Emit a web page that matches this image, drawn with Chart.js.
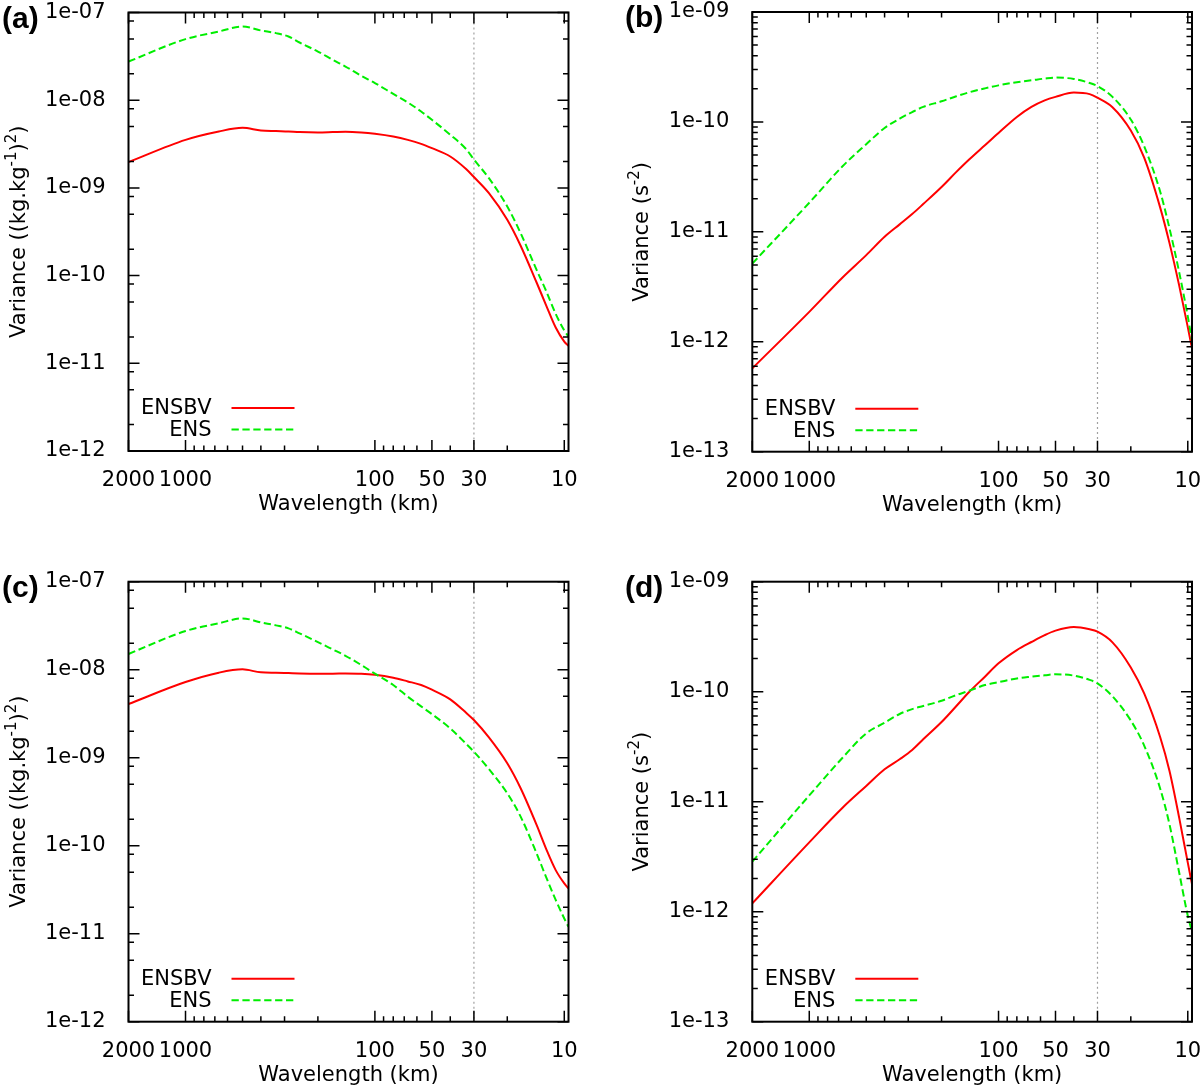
<!DOCTYPE html>
<html>
<head>
<meta charset="utf-8">
<title>Variance spectra ENSBV / ENS</title>
<script src="https://cdn.jsdelivr.net/npm/chart.js@4.4.1/dist/chart.umd.min.js"></script>
<style>
  body { margin: 0; background: #fff; }
  #wrap { position: relative; width: 1200px; height: 1088px; }
  .panel { position: absolute; width: 600px; height: 544px; }
</style>
</head>
<body>
<div id="wrap">
  <div class="panel" style="left:0;top:0"><canvas id="chartA" width="600" height="544"></canvas></div>
  <div class="panel" style="left:600px;top:0"><canvas id="chartB" width="600" height="544"></canvas></div>
  <div class="panel" style="left:0;top:544px"><canvas id="chartC" width="600" height="544"></canvas></div>
  <div class="panel" style="left:600px;top:544px"><canvas id="chartD" width="600" height="544"></canvas></div>
</div>
<script>
const wavelength = [2000, 1000, 667, 500, 400, 333, 286, 250, 200, 167, 143, 118, 100, 80, 67, 57, 50, 40, 33, 30, 25, 20, 17, 14, 12.5, 11.1, 10, 9.5];

// (a) variance in (kg.kg-1)^2
const ensbvA = [1.97e-9, 3.53e-9, 4.40e-9, 4.84e-9, 4.52e-9, 4.45e-9, 4.40e-9, 4.33e-9, 4.29e-9, 4.33e-9, 4.37e-9, 4.29e-9, 4.14e-9, 3.85e-9, 3.53e-9, 3.18e-9, 2.84e-9, 2.28e-9, 1.64e-9, 1.33e-9, 8.71e-10, 4.33e-10, 2.19e-10, 8.34e-11, 4.65e-11, 2.56e-11, 1.77e-11, 1.58e-11];
const ensA = [2.76e-8, 4.97e-8, 6.07e-8, 6.92e-8, 6.24e-8, 5.82e-8, 5.32e-8, 4.55e-8, 3.59e-8, 2.89e-8, 2.42e-8, 1.90e-8, 1.57e-8, 1.18e-8, 9.42e-9, 7.43e-9, 5.98e-9, 4.04e-9, 2.77e-9, 2.11e-9, 1.29e-9, 6.14e-10, 3.05e-10, 1.16e-10, 6.76e-11, 3.66e-11, 2.37e-11, 2.02e-11];

// (b) variance in s-2
const ensbvB = [5.73e-13, 1.87e-12, 3.85e-12, 6.14e-12, 9.02e-12, 1.17e-11, 1.45e-11, 1.79e-11, 2.56e-11, 3.51e-11, 4.55e-11, 6.14e-11, 7.94e-11, 1.11e-10, 1.37e-10, 1.57e-10, 1.69e-10, 1.85e-10, 1.79e-10, 1.66e-10, 1.36e-10, 8.34e-11, 4.73e-11, 1.67e-11, 7.94e-12, 3.24e-12, 1.36e-12, 8.71e-13];
const ensB = [5.15e-12, 1.84e-11, 3.95e-11, 6.27e-11, 8.81e-11, 1.07e-10, 1.23e-10, 1.37e-10, 1.54e-10, 1.71e-10, 1.86e-10, 2.02e-10, 2.15e-10, 2.30e-10, 2.39e-10, 2.48e-10, 2.53e-10, 2.46e-10, 2.26e-10, 2.12e-10, 1.69e-10, 1.05e-10, 6.00e-11, 2.33e-11, 1.08e-11, 4.28e-12, 1.70e-12, 1.02e-12];

// (c) variance in (kg.kg-1)^2
const ensbvC = [4.07e-9, 7.24e-9, 9.25e-9, 1.01e-8, 9.33e-9, 9.25e-9, 9.16e-9, 9.08e-9, 9.02e-9, 9.02e-9, 9.08e-9, 9.02e-9, 8.77e-9, 8.11e-9, 7.36e-9, 6.70e-9, 5.93e-9, 4.60e-9, 3.24e-9, 2.68e-9, 1.70e-9, 8.63e-10, 4.49e-10, 1.72e-10, 9.33e-11, 5.28e-11, 3.73e-11, 3.27e-11];
const ensC = [1.51e-8, 2.75e-8, 3.37e-8, 3.83e-8, 3.45e-8, 3.19e-8, 2.95e-8, 2.59e-8, 2.06e-8, 1.70e-8, 1.44e-8, 1.13e-8, 9.02e-9, 6.70e-9, 4.93e-9, 3.83e-9, 3.13e-9, 2.15e-9, 1.44e-9, 1.17e-9, 7.43e-10, 3.94e-10, 2.14e-10, 8.18e-11, 4.45e-11, 2.42e-11, 1.49e-11, 1.20e-11];

// (d) variance in s-2
const ensbvD = [1.19e-12, 4.27e-12, 8.81e-12, 1.39e-11, 1.97e-11, 2.43e-11, 2.95e-11, 3.69e-11, 5.30e-11, 7.41e-11, 9.93e-11, 1.37e-10, 1.81e-10, 2.39e-10, 2.83e-10, 3.27e-10, 3.59e-10, 3.87e-10, 3.69e-10, 3.51e-10, 2.81e-10, 1.66e-10, 9.64e-11, 3.87e-11, 1.91e-11, 7.13e-12, 2.79e-12, 1.78e-12];
const ensD = [2.85e-12, 1.14e-11, 2.51e-11, 4.18e-11, 5.22e-11, 6.27e-11, 6.95e-11, 7.41e-11, 8.28e-11, 9.33e-11, 1.02e-10, 1.15e-10, 1.22e-10, 1.32e-10, 1.37e-10, 1.41e-10, 1.44e-10, 1.40e-10, 1.28e-10, 1.19e-10, 9.08e-11, 5.47e-11, 3.24e-11, 1.32e-11, 6.25e-12, 2.26e-12, 9.20e-13, 6.61e-13];

const seriesNames = ['ENSBV', 'ENS'];

// axis ticks
const xTicks = [2000, 1000, 100, 50, 30, 10];
const xTickLabels = ['2000', '1000', '100', '50', '30', '10'];
const xMinorTicks = [900, 800, 700, 600, 500, 400, 300, 200, 90, 80, 70, 60, 40, 20];
const yTicksQ = [1e-12, 1e-11, 1e-10, 1e-9, 1e-8, 1e-7];
const yTickLabelsQ = ['1e-12', '1e-11', '1e-10', '1e-09', '1e-08', '1e-07'];
const yTicksS = [1e-13, 1e-12, 1e-11, 1e-10, 1e-9];
const yTickLabelsS = ['1e-13', '1e-12', '1e-11', '1e-10', '1e-09'];
const xMarker = 30;   // dotted line

const RED = '#ff0000';
const GREEN = '#00ee00';
const FONT = "'DejaVu Sans', sans-serif";

Chart.defaults.font.family = FONT;
Chart.defaults.font.size = 21;
Chart.defaults.color = '#000';

function points(vals) {
    return wavelength.map((w, i) => ({x: w, y: vals[i]}));
}

// frame, inward tics, dotted line, legend, y title and panel letter, gnuplot style
function gnuplotBits(p) {
    return {
        id: 'gnuplotBits',
        beforeDatasetsDraw(chart) {
            const {ctx, chartArea: a, scales: {x}} = chart;
            const px = x.getPixelForValue(xMarker);
            ctx.save();
            ctx.strokeStyle = '#a0a0a0';
            ctx.lineWidth = 1.2;
            ctx.setLineDash([2, 3]);
            ctx.beginPath();
            ctx.moveTo(px, a.top);
            ctx.lineTo(px, a.bottom);
            ctx.stroke();
            ctx.restore();
        },
        afterDraw(chart) {
            const {ctx, chartArea: a, scales: {x, y}} = chart;
            ctx.save();
            ctx.strokeStyle = '#000';
            ctx.lineWidth = 1.5;
            ctx.beginPath();
            // x tics, bottom and top
            const xt = (v, len) => {
                const px = x.getPixelForValue(v);
                ctx.moveTo(px, a.bottom); ctx.lineTo(px, a.bottom - len);
                ctx.moveTo(px, a.top); ctx.lineTo(px, a.top + len);
            };
            xTicks.forEach(v => xt(v, 11));
            xMinorTicks.forEach(v => xt(v, 5.5));
            // y tics, left and right
            const yt = (v, len) => {
                const py = y.getPixelForValue(v);
                ctx.moveTo(a.left, py); ctx.lineTo(a.left + len, py);
                ctx.moveTo(a.right, py); ctx.lineTo(a.right - len, py);
            };
            p.yTicks.forEach((d, i) => {
                yt(d, 11);
                if (i < p.yTicks.length - 1) p.yMinor.forEach(m => yt(d * m, 5.5));
            });
            ctx.stroke();

            // frame
            ctx.lineWidth = 2;
            ctx.strokeRect(a.left, a.top, a.right - a.left, a.bottom - a.top);

            // legend
            ctx.font = '21px ' + FONT;
            ctx.fillStyle = '#000';
            ctx.textAlign = 'right';
            ctx.textBaseline = 'middle';
            chart.data.datasets.forEach((ds, i) => {
                const ly = a.bottom - 43 + i * 21.5;
                ctx.fillText(ds.label, a.left + 83, ly + 1);
                ctx.save();
                ctx.strokeStyle = ds.borderColor;
                ctx.lineWidth = 2;
                ctx.setLineDash(ds.borderDash || []);
                ctx.beginPath();
                ctx.moveTo(a.left + 103, ly);
                ctx.lineTo(a.left + 166, ly);
                ctx.stroke();
                ctx.restore();
            });

            // y title with superscripts, rotated
            ctx.save();
            ctx.translate(a.left - 104, (a.top + a.bottom) / 2);
            ctx.rotate(-Math.PI / 2);
            ctx.textAlign = 'left';
            ctx.textBaseline = 'alphabetic';
            const fontOf = s => s[1] ? '15px ' + FONT : '21px ' + FONT;
            let total = 0;
            p.yTitle.forEach(s => { ctx.font = fontOf(s); total += ctx.measureText(s[0]).width; });
            let tx = -total / 2;
            p.yTitle.forEach(s => {
                ctx.font = fontOf(s);
                ctx.fillText(s[0], tx, s[1] ? -9 : 0);
                tx += ctx.measureText(s[0]).width;
            });
            ctx.restore();

            // panel letter
            ctx.font = "bold 30px 'Liberation Sans', Arial, sans-serif";
            ctx.textAlign = 'left';
            ctx.textBaseline = 'alphabetic';
            ctx.fillText(p.tag, p.tagX, p.tagY);
            ctx.restore();
        }
    };
}

function makePanel(canvasId, p) {
    const b = p.box;
    return new Chart(document.getElementById(canvasId), {
        type: 'line',
        data: {
            datasets: [{
                label: seriesNames[0],
                data: points(p.ensbv),
                borderColor: RED,
                borderWidth: 2,
                pointRadius: 0,
                cubicInterpolationMode: 'monotone',
                order: 1
            }, {
                label: seriesNames[1],
                data: points(p.ens),
                borderColor: GREEN,
                borderWidth: 2,
                borderDash: [7.3, 3.6],
                pointRadius: 0,
                cubicInterpolationMode: 'monotone',
                order: 0
            }]
        },
        options: {
            responsive: false,
            devicePixelRatio: 1,
            animation: false,
            layout: {
                autoPadding: false,
                padding: {left: b.left - 100, top: b.top, right: 600 - b.right, bottom: 544 - b.bottom - 64}
            },
            plugins: {
                legend: {display: false},
                tooltip: {enabled: false}
            },
            scales: {
                x: {
                    type: 'logarithmic',
                    reverse: true,
                    min: 9.5,
                    max: 2000,
                    grid: {display: false},
                    border: {display: false},
                    ticks: {
                        autoSkip: false,
                        maxRotation: 0,
                        minRotation: 0,
                        padding: 11.5,
                        font: {size: 21, lineHeight: 1},
                        callback: (v, i) => xTickLabels[i]
                    },
                    afterBuildTicks: s => { s.ticks = xTicks.map(v => ({value: v})); },
                    afterFit: s => { s.height = 64; s.paddingLeft = 0; s.paddingRight = 0; },
                    title: {
                        display: true,
                        text: 'Wavelength (km)',
                        padding: {top: 0, bottom: 0},
                        font: {size: 21, lineHeight: 1}
                    }
                },
                y: {
                    type: 'logarithmic',
                    min: p.yTicks[0],
                    max: p.yTicks[p.yTicks.length - 1],
                    grid: {display: false},
                    border: {display: false},
                    ticks: {
                        autoSkip: false,
                        padding: 15,
                        font: {size: 21, lineHeight: 1},
                        callback: (v, i) => p.yLabels[i]
                    },
                    afterBuildTicks: s => { s.ticks = p.yTicks.map(v => ({value: v})); },
                    afterFit: s => { s.width = 100; s.paddingTop = 0; s.paddingBottom = 0; }
                }
            }
        },
        plugins: [gnuplotBits(p)]
    });
}

const titleQ = [['Variance ((kg.kg', 0], ['-1', 1], [')', 0], ['2', 1], [')', 0]];
const titleS = [['Variance (s', 0], ['-2', 1], [')', 0]];

makePanel('chartA', {
    tag: '(a)', tagX: 2, tagY: 28,
    box: {left: 128.5, top: 12.5, right: 568.5, bottom: 451},
    ensbv: ensbvA, ens: ensA,
    yTicks: yTicksQ, yLabels: yTickLabelsQ, yMinor: [2, 5, 8], yTitle: titleQ
});
makePanel('chartB', {
    tag: '(b)', tagX: 25, tagY: 27,
    box: {left: 152.3, top: 12, right: 592, bottom: 451.7},
    ensbv: ensbvB, ens: ensB,
    yTicks: yTicksS, yLabels: yTickLabelsS, yMinor: [2, 3, 4, 5, 6, 7, 8, 9], yTitle: titleS
});
makePanel('chartC', {
    tag: '(c)', tagX: 2, tagY: 53,
    box: {left: 128.5, top: 37.7, right: 568.5, bottom: 477.7},
    ensbv: ensbvC, ens: ensC,
    yTicks: yTicksQ, yLabels: yTickLabelsQ, yMinor: [2, 5, 8], yTitle: titleQ
});
makePanel('chartD', {
    tag: '(d)', tagX: 25, tagY: 53,
    box: {left: 152.3, top: 37.7, right: 592, bottom: 477.7},
    ensbv: ensbvD, ens: ensD,
    yTicks: yTicksS, yLabels: yTickLabelsS, yMinor: [2, 3, 4, 5, 6, 7, 8, 9], yTitle: titleS
});
</script>
</body>
</html>
